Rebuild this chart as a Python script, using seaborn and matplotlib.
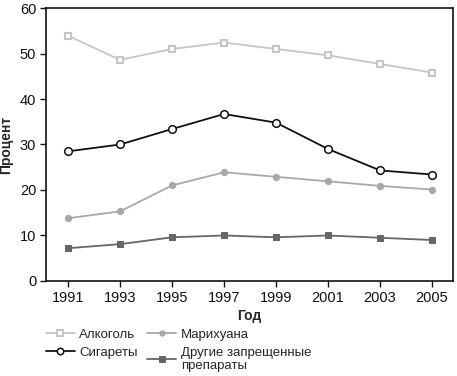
import numpy as np
import pandas as pd
import matplotlib
matplotlib.use("Agg")
import matplotlib.pyplot as plt
import seaborn as sns

# data
years = [1991, 1993, 1995, 1997, 1999, 2001, 2003, 2005]
alcohol = [53.9, 48.6, 51.0, 52.4, 51.0, 49.6, 47.7, 45.8]
cigarettes = [28.5, 30.0, 33.4, 36.7, 34.8, 29.0, 24.3, 23.4]
marijuana = [13.8, 15.3, 21.0, 23.9, 22.9, 21.9, 20.9, 20.1]
other = [7.2, 8.1, 9.6, 10.0, 9.6, 10.0, 9.5, 9.0]
names = ["Алкоголь", "Сигареты", "Марихуана", "Другие запрещенные\nпрепараты"]

sns.set_style("white")
plt.rcParams['font.family'] = ['Liberation Sans', 'DejaVu Sans']

fig = plt.figure(figsize=(4.57, 3.76), dpi=100)
ax = fig.add_axes([0.1007, 0.2527, 0.8903, 0.726])

styles = [
    (alcohol, dict(color="#c6c6c6", marker="s", markerfacecolor="white", markeredgecolor="#c6c6c6", markersize=5, markeredgewidth=1.5)),
    (cigarettes, dict(color="#111111", marker="o", markerfacecolor="white", markeredgecolor="#111111", markersize=5.5, markeredgewidth=1.1)),
    (marijuana, dict(color="#a8a8a8", marker="o", markerfacecolor="#a8a8a8", markeredgecolor="#a8a8a8", markersize=4.5)),
    (other, dict(color="#666666", marker="s", markerfacecolor="#666666", markeredgecolor="#666666", markersize=5)),
]

for (vals, kw), name in zip(styles, names):
    df = pd.DataFrame({"year": years, "val": vals})
    sns.lineplot(data=df, x="year", y="val", ax=ax, label=name, linewidth=1.3, **kw)

ax.set_xlim(1990.15, 2005.8)
ax.set_ylim(0, 60)
ax.set_xticks(years)
ax.set_yticks(range(0, 61, 10))
ax.tick_params(axis="both", labelsize=10.5, direction="out", length=4, width=1, left=True, bottom=True,
               colors="#111111", pad=3)
for s in ax.spines.values():
    s.set_color("#111111")
    s.set_linewidth(1.2)
ax.set_xlabel("Год", fontsize=10, fontweight="bold", labelpad=3)
ax.set_ylabel("Процент", fontsize=10, fontweight="bold", labelpad=5)

handles, labels = ax.get_legend_handles_labels()
ax.legend(handles, labels, ncol=2, loc="upper left", bbox_to_anchor=(-0.03, -0.13),
          frameon=False, fontsize=9.5, handlelength=2.2, handletextpad=0.35, markerscale=0.85,
          columnspacing=0.7, labelspacing=0.45)

fig.savefig("out.png", dpi=100)
